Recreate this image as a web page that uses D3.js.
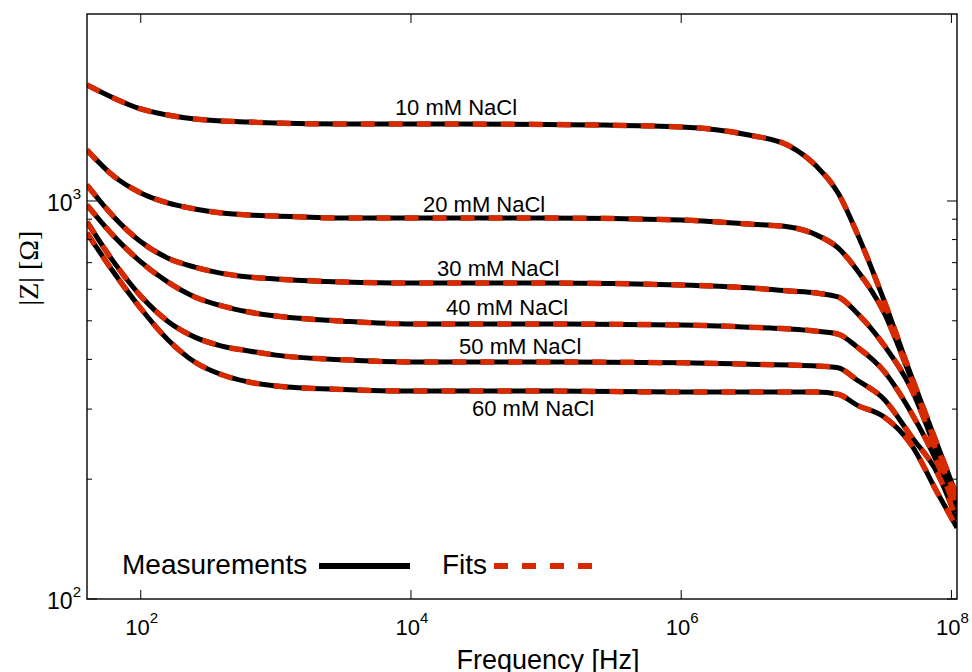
<!DOCTYPE html>
<html>
<head>
<meta charset="utf-8">
<title>Impedance vs frequency</title>
<script src="https://cdn.jsdelivr.net/npm/d3@7/dist/d3.min.js"></script>
<style>
  body { margin: 0; background: #fff; }
  svg text { font-family: "Liberation Sans", Arial, sans-serif; fill: #000; }
</style>
</head>
<body>
<svg id="chart" width="972" height="672"></svg>
<script>
// frequency points (Hz)
var freq = [40, 63, 100, 158, 251, 398, 631, 1e3, 3.16e3, 1e4, 1e5, 1e6,
  3.16e6, 6.31e6, 1e7, 1.45e7, 2e7, 3.16e7, 5.01e7, 7.94e7, 1.1e8];

// |Z| in ohm for each concentration
var z10 = [1956, 1814, 1703, 1644, 1607, 1588, 1579, 1570, 1561, 1561, 1557, 1535, 1465, 1375, 1224, 1047, 831, 564, 366, 242, 181];
var z20 = [1343, 1155, 1048, 989, 955, 933, 922, 917, 906, 906, 906, 896, 875, 860, 822, 762, 671, 526, 359, 238, 177];
var z30 = [1097, 913, 790, 719, 682, 658, 644, 637, 626, 622, 622, 615, 605, 594, 587, 574, 523, 435, 339, 230, 172];
var z40 = [977, 817, 703, 626, 574, 545, 526, 514, 499, 491, 491, 488, 482, 477, 471, 463, 430, 374, 295, 218, 165];
var z50 = [886, 703, 577, 499, 455, 432, 420, 410, 399, 394, 394, 392, 389, 387, 385, 381, 355, 318, 257, 206, 158];
var z60 = [831, 662, 537, 449, 394, 366, 351, 343, 336, 333, 333, 331, 331, 331, 331, 327, 307, 287, 245, 184, 151];

var seriesNames = ['10 mM NaCl', '20 mM NaCl', '30 mM NaCl', '40 mM NaCl', '50 mM NaCl', '60 mM NaCl'];
var series = [z10, z20, z30, z40, z50, z60];

// where each name sits (frequency, |Z| at the text baseline)
var labelFreq = [7600, 12270, 15600, 18150, 22700, 28300];
var labelZ = [1644, 938, 648, 517, 413, 288];

var xTicks = [1e2, 1e4, 1e6, 1e8];
var xTickExp = ['2', '4', '6', '8'];
var yTicks = [1e2, 1e3];
var yTickExp = ['2', '3'];
var yMinor = [200, 300, 400, 500, 600, 700, 800, 900];

var svg = d3.select('#chart'),
  mLeft = 87, mRight = 957, mTop = 14, mBottom = 599;

var x = d3.scaleLog().domain([40, 1.1e8]).range([mLeft, mRight]);
var y = d3.scaleLog().domain([100, 2950]).range([mBottom, mTop]);

var red = '#d82a00';

var line = d3.line()
  .x(d => x(d[0]))
  .y(d => y(d[1]))
  .curve(d3.curveMonotoneX);

var pts = series.map(s => s.map((v, i) => [freq[i], v]));

svg.append('clipPath').attr('id', 'clip')
  .append('rect').attr('x', mLeft).attr('y', mTop)
  .attr('width', mRight - mLeft).attr('height', mBottom - mTop);

var plot = svg.append('g').attr('clip-path', 'url(#clip)');

// measurements
plot.selectAll('.meas')
  .data(pts)
  .enter()
  .append('path')
  .attr('class', 'meas')
  .attr('d', line)
  .attr('fill', 'none')
  .attr('stroke', '#000')
  .attr('stroke-width', 5);

// fits
plot.selectAll('.fit')
  .data(pts)
  .enter()
  .append('path')
  .attr('class', 'fit')
  .attr('d', line)
  .attr('fill', 'none')
  .attr('stroke', red)
  .attr('stroke-width', 5.5)
  .attr('stroke-dasharray', '14,14');

// frame
svg.append('rect')
  .attr('x', mLeft).attr('y', mTop)
  .attr('width', mRight - mLeft).attr('height', mBottom - mTop)
  .attr('fill', 'none').attr('stroke', '#000').attr('stroke-width', 1.4);

// ticks (inside, on all four sides)
var tk = svg.append('g').attr('stroke', '#000').attr('stroke-width', 1);
xTicks.forEach(t => {
  tk.append('line').attr('x1', x(t)).attr('x2', x(t)).attr('y1', mBottom).attr('y2', mBottom - 9);
  tk.append('line').attr('x1', x(t)).attr('x2', x(t)).attr('y1', mTop).attr('y2', mTop + 9);
});
yTicks.forEach(t => {
  tk.append('line').attr('x1', mLeft).attr('x2', mLeft + 10).attr('y1', y(t)).attr('y2', y(t));
  tk.append('line').attr('x1', mRight).attr('x2', mRight - 10).attr('y1', y(t)).attr('y2', y(t));
});
yMinor.forEach(t => {
  tk.append('line').attr('x1', mLeft).attr('x2', mLeft + 5).attr('y1', y(t)).attr('y2', y(t));
  tk.append('line').attr('x1', mRight).attr('x2', mRight - 5).attr('y1', y(t)).attr('y2', y(t));
});

// tick labels
xTicks.forEach((t, i) => {
  var tx = svg.append('text')
    .attr('x', x(t) + 1).attr('y', 635)
    .attr('text-anchor', 'middle')
    .style('font-size', '22px');
  tx.append('tspan').text('10');
  tx.append('tspan').attr('dy', -12).style('font-size', '15px').text(xTickExp[i]);
});
yTicks.forEach((t, i) => {
  var ty = svg.append('text')
    .attr('x', 81).attr('y', y(t) + 10)
    .attr('text-anchor', 'end')
    .style('font-size', '23px');
  ty.append('tspan').text('10');
  ty.append('tspan').attr('dy', -12).style('font-size', '15px').text(yTickExp[i]);
});

// curve names
svg.selectAll('.name')
  .data(seriesNames)
  .enter()
  .append('text')
  .attr('class', 'name')
  .attr('x', (d, i) => x(labelFreq[i]))
  .attr('y', (d, i) => y(labelZ[i]))
  .style('font-size', '22px')
  .text(d => d);

// legend
svg.append('text').attr('x', 122).attr('y', 574).style('font-size', '28px').text('Measurements');
svg.append('line').attr('x1', 319).attr('x2', 410).attr('y1', 566).attr('y2', 566)
  .attr('stroke', '#000').attr('stroke-width', 6);
svg.append('text').attr('x', 442).attr('y', 574).style('font-size', '28px').text('Fits');
svg.append('line').attr('x1', 494).attr('x2', 594).attr('y1', 566).attr('y2', 566)
  .attr('stroke', red).attr('stroke-width', 6).attr('stroke-dasharray', '14,14');

// axis titles
svg.append('text')
  .attr('x', 548).attr('y', 669)
  .attr('text-anchor', 'middle')
  .style('font-size', '27px')
  .text('Frequency [Hz]');

svg.append('text')
  .attr('transform', 'translate(38,268) rotate(-90)')
  .attr('text-anchor', 'middle')
  .style('font-family', '"Liberation Serif", "Times New Roman", serif')
  .style('font-size', '28px')
  .text('|Z| [Ω]');
</script>
</body>
</html>
